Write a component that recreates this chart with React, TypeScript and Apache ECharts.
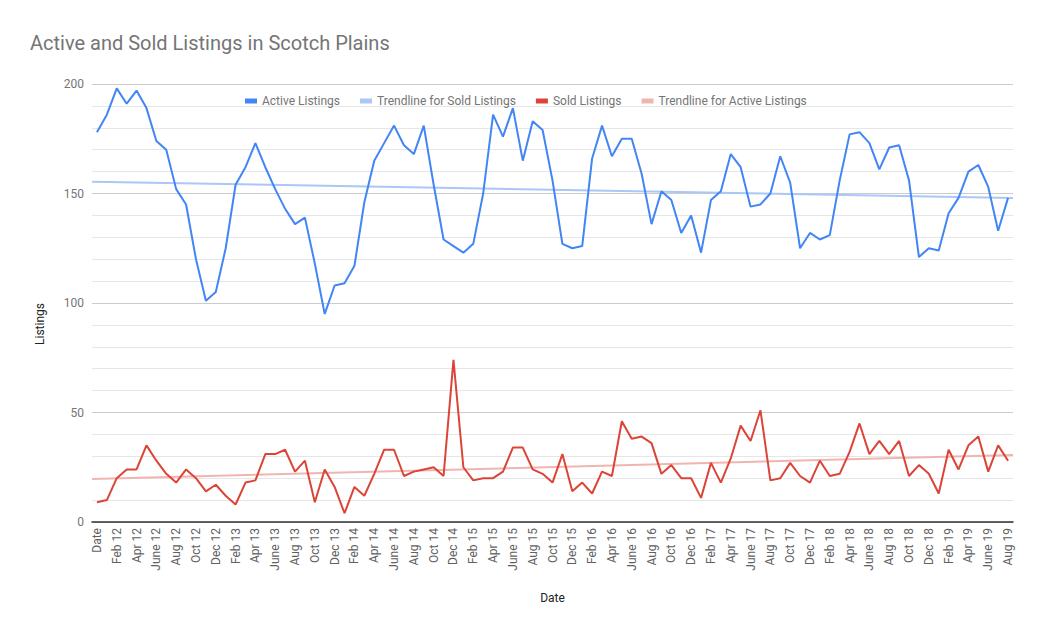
import React, { useEffect, useRef } from "react";
import * as echarts from "echarts";

const months = ["Jan", "Feb", "Mar", "Apr", "May", "June", "July", "Aug", "Sep", "Oct", "Nov", "Dec"];
const years = ["12", "13", "14", "15", "16", "17", "18", "19"];
const categories: string[] = ["Date"];
for (const y of years) {
  for (const m of months) {
    if (y === "19" && months.indexOf(m) > 7) break;
    categories.push(m + " " + y);
  }
}

const activeListings = [
  178, 186, 198, 191, 197, 189, 174, 170, 152, 145, 120, 101, 105, 125, 154, 162,
  173, 162, 152, 143, 136, 139, 118, 95, 108, 109, 117, 146, 165, 173, 181, 172,
  168, 181, 154, 129, 126, 123, 127, 150, 186, 176, 189, 165, 183, 179, 156, 127,
  125, 126, 166, 181, 167, 175, 175, 159, 136, 151, 147, 132, 140, 123, 147, 151,
  168, 162, 144, 145, 150, 167, 155, 125, 132, 129, 131, 156, 177, 178, 173, 161,
  171, 172, 156, 121, 125, 124, 141, 148, 160, 163, 153, 133, 148,
];

const soldListings = [
  9, 10, 20, 24, 24, 35, 28, 22, 18, 24, 20, 14, 17, 12, 8, 18,
  19, 31, 31, 33, 23, 28, 9, 24, 16, 4, 16, 12, 22, 33, 33, 21,
  23, 24, 25, 21, 74, 25, 19, 20, 20, 23, 34, 34, 24, 22, 18, 31,
  14, 18, 13, 23, 21, 46, 38, 39, 36, 22, 26, 20, 20, 11, 27, 18,
  29, 44, 37, 51, 19, 20, 27, 21, 18, 28, 21, 22, 32, 45, 31, 37,
  31, 37, 21, 26, 22, 13, 33, 24, 35, 39, 23, 35, 28,
];

// trendline end values (at left and right plot edges)
const trendBlueEnds = [155.4, 148.0];
const trendRedEnds = [19.6, 30.6];

const yTicks = [0, 50, 100, 150, 200];

export default function App() {
  const ref = useRef<HTMLDivElement>(null);
  useEffect(() => {
    if (!ref.current) return;
    const chart = echarts.init(ref.current, null, { renderer: "svg" });
    const n = categories.length;
    const font = "Roboto, Arial, sans-serif";
    chart.setOption({
      animation: false,
      backgroundColor: "#ffffff",
      title: {
        text: "Active and Sold Listings in Scotch Plains",
        left: 25,
        top: 28,
        textStyle: { fontFamily: font, fontSize: 20, fontWeight: "normal", color: "#757575" },
      },
      legend: {
        top: 90,
        left: 240,
        itemWidth: 12,
        itemHeight: 5,
        itemGap: 20,
        icon: "rect",
        textStyle: { fontFamily: font, fontSize: 12, color: "#757575" },
        data: ["Active Listings", "Trendline for Sold Listings", "Sold Listings", "Trendline for Active Listings"],
      },
      grid: { left: 92, right: 32, top: 84, bottom: 115, containLabel: false },
      xAxis: [
        {
          type: "category",
          data: categories,
          boundaryGap: true,
          name: "Date",
          nameLocation: "middle",
          nameGap: 70,
          nameTextStyle: { fontFamily: font, fontSize: 12, color: "#222222" },
          axisLine: { lineStyle: { color: "#333333", width: 1.5 } },
          axisTick: { show: false },
          axisLabel: {
            rotate: 90,
            interval: 1,
            fontFamily: font,
            fontSize: 12,
            color: "#616161",
            margin: 6,
          },
        },
        {
          type: "value",
          min: -0.5,
          max: n - 0.5,
          show: false,
        },
      ],
      yAxis: {
        type: "value",
        min: yTicks[0],
        max: yTicks[yTicks.length - 1],
        interval: 50,
        name: "Listings",
        nameLocation: "middle",
        nameGap: 46,
        nameTextStyle: { fontFamily: font, fontSize: 12, color: "#222222", padding: [0, 42, 0, 0] },
        axisLine: { show: false },
        axisTick: { show: false },
        axisLabel: { fontFamily: font, fontSize: 12, color: "#757575", margin: 8 },
        splitLine: { lineStyle: { color: "#cccccc", width: 1 } },
        minorTick: { show: false, splitNumber: 5 },
        minorSplitLine: { show: true, lineStyle: { color: "#e6e6e6", width: 1 } },
      },
      series: [
        {
          name: "Active Listings",
          type: "line",
          data: activeListings,
          showSymbol: false,
          symbol: "none",
          lineStyle: { color: "#4285f4", width: 2 },
          itemStyle: { color: "#4285f4" },
          z: 3,
        },
        {
          name: "Trendline for Sold Listings",
          type: "line",
          xAxisIndex: 1,
          data: [[-0.5, trendBlueEnds[0]], [n - 0.5, trendBlueEnds[1]]],
          symbol: "none",
          lineStyle: { color: "#aac7f8", width: 2 },
          itemStyle: { color: "#aac7f8" },
          z: 2,
        },
        {
          name: "Sold Listings",
          type: "line",
          data: soldListings,
          symbol: "none",
          lineStyle: { color: "#db4437", width: 2 },
          itemStyle: { color: "#db4437" },
          z: 3,
        },
        {
          name: "Trendline for Active Listings",
          type: "line",
          xAxisIndex: 1,
          data: [[-0.5, trendRedEnds[0]], [n - 0.5, trendRedEnds[1]]],
          symbol: "none",
          lineStyle: { color: "#f1b4ae", width: 2 },
          itemStyle: { color: "#f1b4ae" },
          z: 2,
        },
      ],
    });
    return () => chart.dispose();
  }, []);
  return <div ref={ref} style={{ width: 1045, height: 637, position: "absolute", left: 0, top: 0 }} />;
}
